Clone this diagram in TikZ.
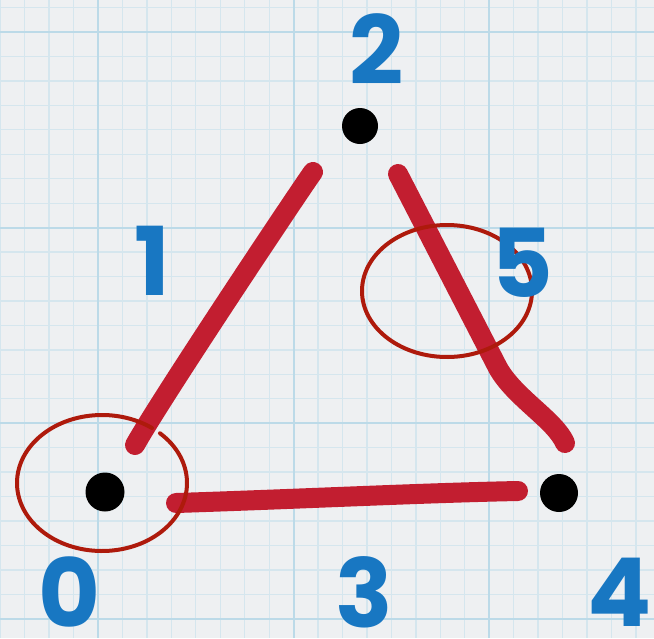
\documentclass[tikz,border=0pt]{standalone}
\usepackage{fontspec}
\newfontfamily\digitfont{Poppins}
\definecolor{paper}{HTML}{EEF0F2}
\definecolor{minorgrid}{HTML}{D5E6EE}
\definecolor{majorgrid}{HTML}{BCDAE8}
\definecolor{edgered}{HTML}{C21E30}
\definecolor{ringred}{HTML}{AE1A0C}
\definecolor{digitblue}{HTML}{1877C2}
\tikzset{
  minorline/.style={minorgrid, line width=1.3pt},
  majorline/.style={majorgrid, line width=2.2pt},
  vertexdot/.style={circle, fill=black, minimum size=36pt, inner sep=0pt},
  edgestroke/.style={edgered, line width=20pt, line cap=round, line join=round},
  ring/.style={ringred, line width=4pt, line cap=round},
  digit/.style={text=digitblue, inner sep=0pt, font=\digitfont\bfseries\fontsize{95}{95}\selectfont}
}
\begin{document}
\begin{tikzpicture}[x=1pt, y=-1pt]
\useasboundingbox (0,0) rectangle (654,638);
\fill[paper] (0,0) rectangle (654,638);
% grid
\foreach \k in {-4,...,22} { \pgfmathsetmacro\xx{98+\k*24.45} \draw[minorline] (\xx,0) -- (\xx,638); }
\foreach \k in {-1,...,24} { \pgfmathsetmacro\yy{32+\k*24.45} \draw[minorline] (0,\yy) -- (654,\yy); }
\foreach \xx in {98,293.6,489.2} { \draw[majorline] (\xx,0) -- (\xx,638); }
\foreach \yy in {32,227.6,423.2,618.8} { \draw[majorline] (0,\yy) -- (654,\yy); }
% vertices
\node[vertexdot] (v2) at (360,126) {};
\node[vertexdot, minimum height=39pt] (v0) at (105,492) {};
\node[vertexdot, minimum size=38pt] (v4) at (559,493) {};
% edge end points
\coordinate (e1a) at (313,172);
\coordinate (e1b) at (135,445);
\coordinate (e3a) at (176,503);
\coordinate (e3b) at (518,491);
\coordinate (e5a) at (398,174);
\coordinate (e5m) at (498,368);
\coordinate (e5b) at (565,443);
% edges
\draw[edgestroke] (e1a) .. controls (300,190) and (160,400) .. (e1b);
\draw[edgestroke] (e3a) .. controls (300,499) and (420,493) .. (e3b);
\draw[edgestroke] (e5a) -- (e5m) .. controls (515,398) and (555,420) .. (e5b);
% rings
\coordinate (r0) at (102,483);
\coordinate (r5) at (447,291);
\draw[ring] (r0) ++(-47:85 and 68) arc[start angle=-47, end angle=306, x radius=85, y radius=68];
\draw[ring] (r5) ++(-43:85 and 66) arc[start angle=-43, end angle=310, x radius=85, y radius=66];
% labels
\node[digit] (l2) at (377,49) {2};
\node[digit] (l1) at (152,261) {1};
\node[digit] (l5) at (522,263) {5};
\node[digit] (l0) at (69,592) {0};
\node[digit] (l3) at (364,592) {3};
\node[digit] (l4) at (620,592) {4};
\end{tikzpicture}
\end{document}
